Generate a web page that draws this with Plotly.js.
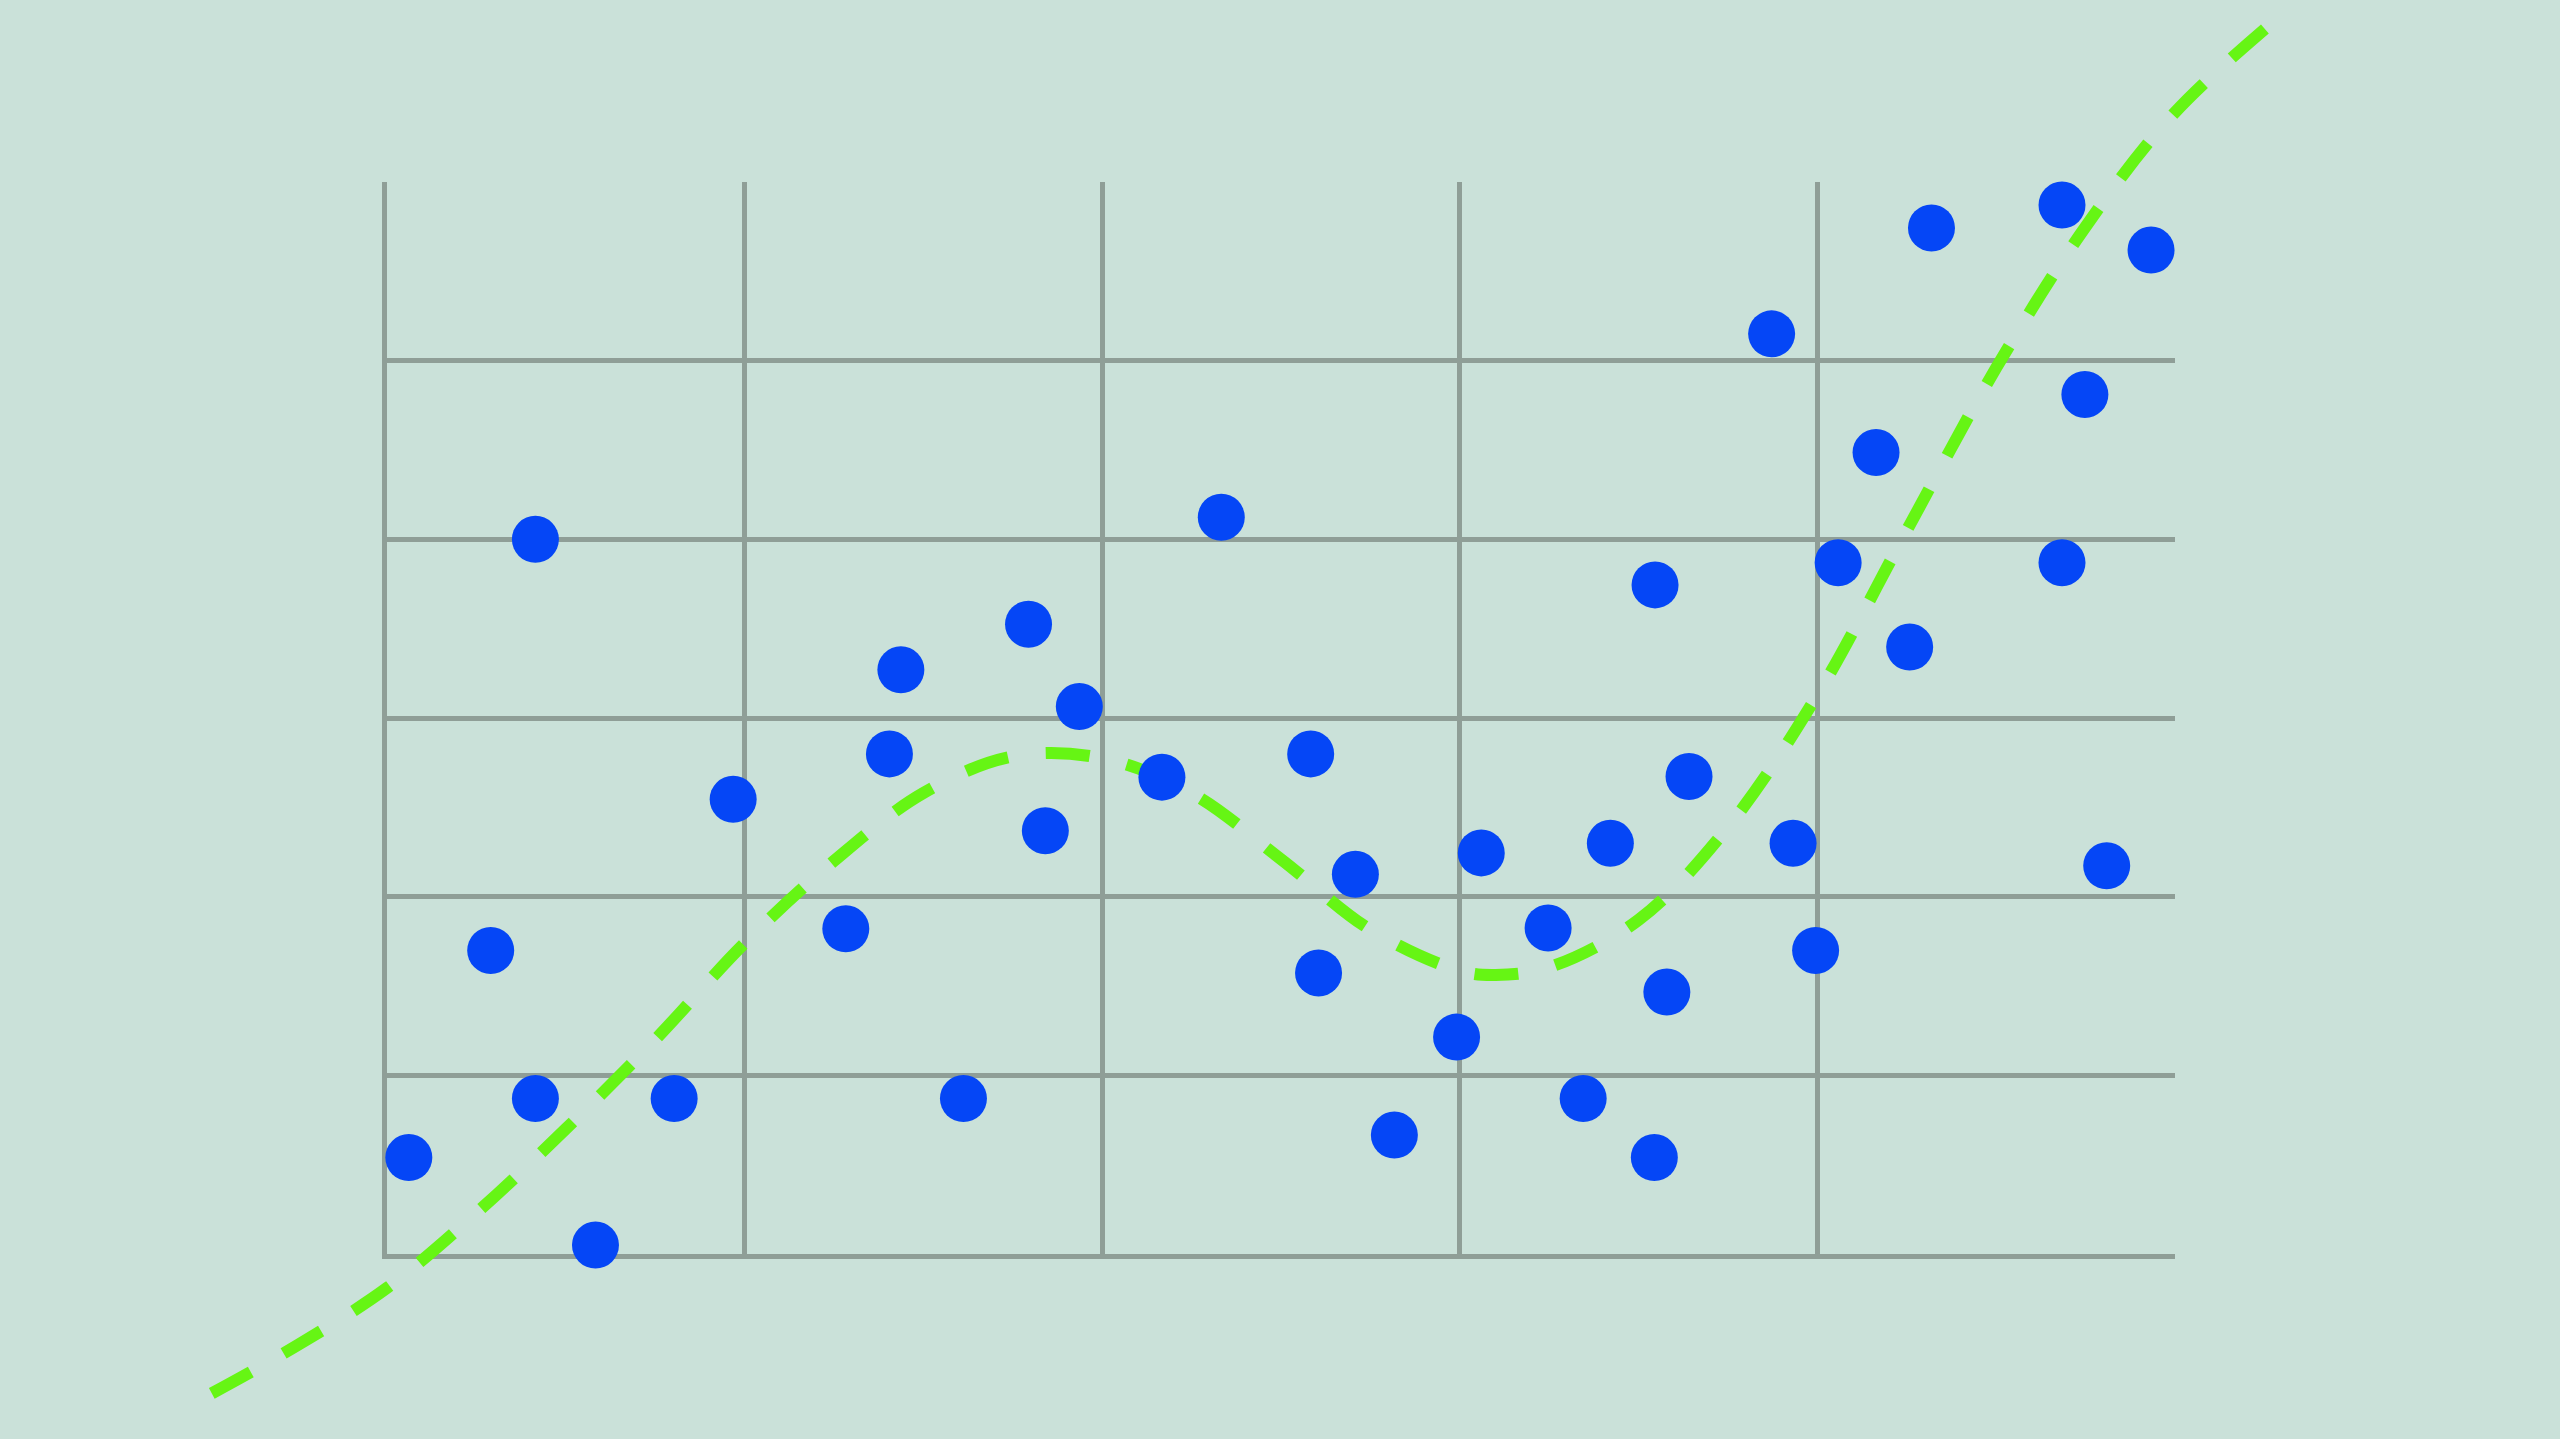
<!DOCTYPE html>
<html>
<head>
<meta charset="utf-8">
<script src="https://cdn.plot.ly/plotly-3.0.1.min.js"></script>
<style>
  html, body { margin: 0; padding: 0; background: #cae1d9; overflow: hidden; }
  #chart { width: 2560px; height: 1439px; }
</style>
</head>
<body>
<div id="chart"></div>
<script>
// ---- Data ----
const pointX = [0.061, 0.290, 0.415, 0.415, 0.583, 0.803, 0.968, 1.283, 1.405, 1.437,
                1.612, 1.794, 1.841, 1.936, 2.167, 2.333, 2.583, 2.605, 2.708, 2.817,
                2.991, 3.060, 3.247, 3.345, 3.421, 3.546, 3.544, 3.579, 3.641, 3.872,
                3.932, 3.995, 4.058, 4.164, 4.258, 4.319, 4.684, 4.684, 4.748, 4.809, 4.933];
const pointY = [0.540, 1.699, 4.000, 0.870, 0.050, 0.870, 2.545, 1.820, 2.799, 3.270,
                0.870, 3.525, 2.369, 3.064, 2.669, 4.124, 2.799, 1.573, 2.125, 0.666,
                1.214, 2.245, 1.825, 0.870, 2.299, 3.745, 0.540, 1.466, 2.673, 5.150,
                2.299, 1.699, 3.869, 4.486, 3.397, 5.743, 5.871, 3.869, 4.811, 2.173, 5.619];

const curveX = [-0.49, -0.25, 0.0, 0.25, 0.5, 0.75, 1.0, 1.25, 1.5, 1.75, 2.0, 2.25,
                2.5, 2.75, 3.0, 3.1, 3.25, 3.5, 3.75, 4.0, 4.25, 4.5, 4.75, 5.0, 5.33];
const curveY = [-0.78, -0.51, -0.19, 0.23, 0.70, 1.20, 1.74, 2.20, 2.58, 2.785, 2.775, 2.58,
                2.21, 1.815, 1.585, 1.562, 1.605, 1.87, 2.39, 3.13, 4.05, 4.96, 5.75, 6.39, 6.99];

const gridXVals = [0, 1, 2, 3, 4];
const gridYVals = [0, 1, 2, 3, 4, 5];

// ---- Layout geometry ----
const W = 2560, H = 1439;
const xRange = [0, 5], yRange = [0, 6];
const plotL = 387, plotR = 2175, plotT = 182, plotB = 1254;
const xDom = [plotL / W, plotR / W];
const yDom = [(H - plotB) / H, (H - plotT) / H];
const xPerPx = (xRange[1] - xRange[0]) / (plotR - plotL);
const yPerPx = (yRange[1] - yRange[0]) / (plotB - plotT);
const x2Range = [xRange[0] - plotL * xPerPx, xRange[0] + (W - plotL) * xPerPx];
const y2Range = [yRange[0] - (H - plotB) * yPerPx, yRange[0] + plotB * yPerPx];

const gridColor = '#8f9e97';
const bg = '#cae1d9';

const traces = [
  { x: [], y: [], type: 'scatter', mode: 'markers', xaxis: 'x', yaxis: 'y',
    showlegend: false, hoverinfo: 'skip' },
  { x: curveX, y: curveY, type: 'scatter', mode: 'lines', xaxis: 'x2', yaxis: 'y2',
    line: { color: '#66f514', width: 12, dash: '44px,38px', shape: 'spline', smoothing: 1 },
    showlegend: false, hoverinfo: 'skip' },
  { x: pointX, y: pointY, type: 'scatter', mode: 'markers', xaxis: 'x2', yaxis: 'y2',
    marker: { color: '#0546f6', size: 47, line: { width: 0 } },
    showlegend: false, hoverinfo: 'skip' }
];

const layout = {
  width: W, height: H,
  margin: { l: 0, r: 0, t: 0, b: 0, pad: 0 },
  paper_bgcolor: bg,
  plot_bgcolor: 'rgba(0,0,0,0)',
  showlegend: false,
  hovermode: false,
  xaxis: {
    domain: xDom, range: xRange, anchor: 'y',
    tickmode: 'array', tickvals: gridXVals, showticklabels: false, ticks: '',
    showgrid: true, gridcolor: gridColor, gridwidth: 5,
    zeroline: false, showline: true, linecolor: gridColor, linewidth: 5, mirror: false
  },
  yaxis: {
    domain: yDom, range: yRange, anchor: 'x',
    tickmode: 'array', tickvals: gridYVals, showticklabels: false, ticks: '',
    showgrid: true, gridcolor: gridColor, gridwidth: 5,
    zeroline: false, showline: true, linecolor: gridColor, linewidth: 5, mirror: false
  },
  xaxis2: {
    domain: [0, 1], range: x2Range, anchor: 'y2', visible: false,
    showgrid: false, zeroline: false
  },
  yaxis2: {
    domain: [0, 1], range: y2Range, anchor: 'x2', visible: false,
    showgrid: false, zeroline: false
  }
};

Plotly.newPlot('chart', traces, layout, { displayModeBar: false, staticPlot: true });
</script>
</body>
</html>
